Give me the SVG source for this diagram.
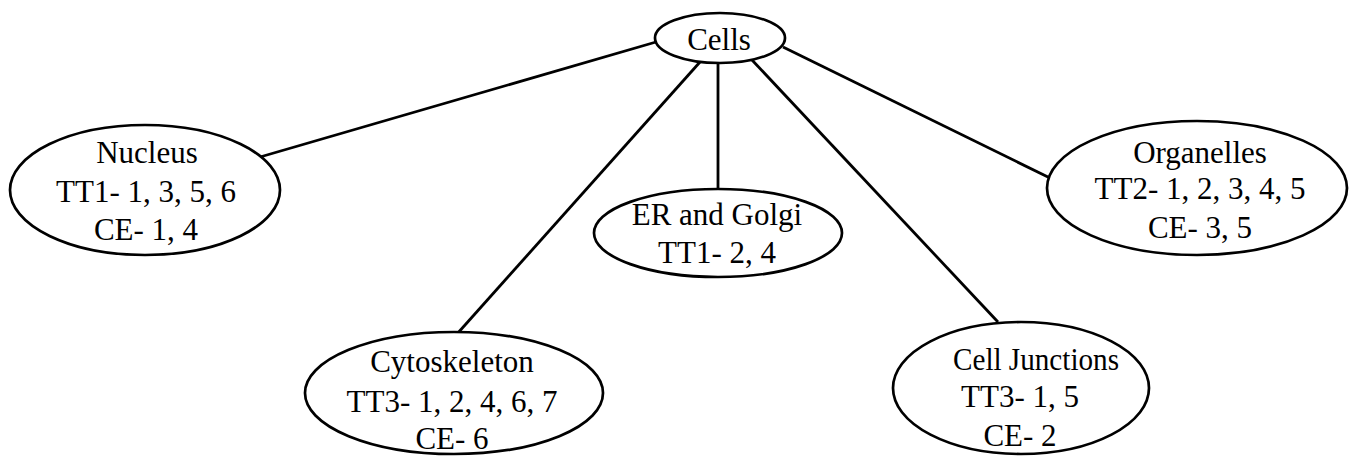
<svg xmlns="http://www.w3.org/2000/svg" width="1355" height="456" viewBox="0 0 1355 456">
<style>
.node ellipse{fill:#fff;stroke:#000;stroke-width:2.7}
.node text{font-family:"Liberation Serif","Times New Roman",serif;font-size:31px;fill:#000;text-anchor:middle}
#connectors line{stroke:#000;stroke-width:2.8}
</style>
<rect width="1355" height="456" fill="#fff"/>
<g id="connectors">
<line x1="656" y1="42" x2="260" y2="157"/>
<line x1="783" y1="47" x2="1050" y2="178"/>
<line x1="700" y1="62" x2="457" y2="334"/>
<line x1="718" y1="63" x2="718" y2="190"/>
<line x1="752" y1="60" x2="998" y2="322"/>
</g>
<g id="cells" class="node">
<ellipse cx="720" cy="38" rx="65" ry="25"/>
<text x="719" y="50">Cells</text>
</g>
<g id="nucleus" class="node">
<ellipse cx="145" cy="190" rx="135" ry="65"/>
<text x="147" y="163">Nucleus</text>
<text x="146" y="202">TT1- 1, 3, 5, 6</text>
<text x="146" y="240">CE- 1, 4</text>
</g>
<g id="er-golgi" class="node">
<ellipse cx="718" cy="233" rx="124" ry="44"/>
<text x="717" y="225">ER and Golgi</text>
<text x="717" y="263">TT1- 2, 4</text>
</g>
<g id="organelles" class="node">
<ellipse cx="1197" cy="188" rx="150" ry="67"/>
<text x="1200" y="163">Organelles</text>
<text x="1200" y="199">TT2- 1, 2, 3, 4, 5</text>
<text x="1200" y="238">CE- 3, 5</text>
</g>
<g id="cytoskeleton" class="node">
<ellipse cx="454" cy="393" rx="149" ry="61"/>
<text x="452" y="372">Cytoskeleton</text>
<text x="452" y="412">TT3- 1, 2, 4, 6, 7</text>
<text x="452" y="449">CE- 6</text>
</g>
<g id="cell-junctions" class="node">
<ellipse cx="1021" cy="388" rx="128" ry="66"/>
<text x="1036" y="370" textLength="166" lengthAdjust="spacingAndGlyphs">Cell Junctions</text>
<text x="1020" y="407">TT3- 1, 5</text>
<text x="1020" y="446">CE- 2</text>
</g>
</svg>
